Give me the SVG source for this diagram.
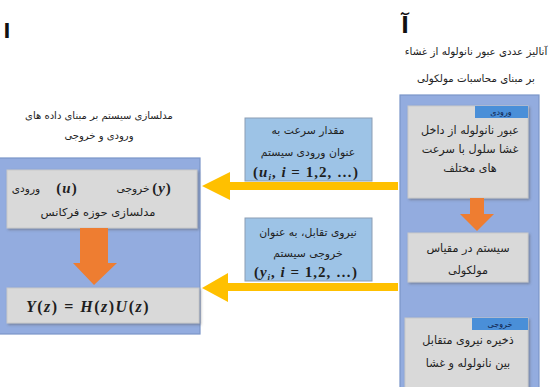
<svg xmlns="http://www.w3.org/2000/svg" width="553" height="387" viewBox="0 0 553 387">
<style>
.fa{font-family:"DejaVu Sans",sans-serif;font-size:10px;fill:#1e1e1e;text-anchor:middle;direction:rtl}
.fb{font-size:10.6px}
.fc{font-size:11.2px}
.m{font-family:"Liberation Serif",serif;font-size:15px;fill:#1e1e1e;text-anchor:middle;font-weight:bold;letter-spacing:1px}
.it{font-style:italic}
.outer{fill:#93acdf;stroke:#7a95c9;stroke-width:1.2}
.gray{fill:#d9d9d9;stroke:#c9c9c9;stroke-width:1}
.lbl{fill:#9dc3e6;stroke:#8c9db3;stroke-width:1}
.tab{fill:#4a8fd8}
.tabt{font-size:8px;fill:#0d1e4a}
.yel{fill:#ffc000}
.org{fill:#ee7d31}
</style>
<defs>
<filter id="sh" x="-10%" y="-10%" width="125%" height="130%">
<feDropShadow dx="1.5" dy="1.5" stdDeviation="1" flood-color="#555" flood-opacity="0.45"/>
</filter>
</defs>
<rect width="553" height="387" fill="#ffffff"/>

<g id="label-b"><text x="7" y="38" font-family="DejaVu Sans, sans-serif" font-size="20" font-weight="bold" fill="#111" text-anchor="middle">ا</text></g>
<g id="label-a"><text x="405" y="33" font-family="DejaVu Sans, sans-serif" font-size="22" font-weight="bold" fill="#111" text-anchor="middle">آ</text></g>

<g id="title-right">
<text class="fa" x="476" y="55" style="font-size:10.3px">آنالیز عددی عبور نانولوله از غشاء</text>
<text class="fa" x="476" y="82" style="font-size:10.3px">بر مبنای محاسبات مولکولی</text>
</g>
<g id="title-left">
<text class="fa" x="99" y="119">مدلسازی سیستم بر مبنای داده های</text>
<text class="fa" x="99" y="139">ورودی و خروجی</text>
</g>

<g id="node-left-model">
<rect class="outer" x="-1" y="158" width="201" height="176"/>
<g id="node-freq-model">
<rect class="gray" x="7" y="170" width="190" height="58" filter="url(#sh)"/>
<text class="fa fb" x="26" y="192">ورودی</text>
<text class="m" x="67" y="193">(<tspan class="it">u</tspan>)</text>
<text class="fa fb" x="133" y="192">خروجی</text>
<text class="m" x="162" y="193">(<tspan class="it">y</tspan>)</text>
<text class="fa" x="98" y="216" style="font-size:11px" textLength="115" lengthAdjust="spacingAndGlyphs">مدلسازی حوزه فرکانس</text>
</g>
<path class="org" d="M80,228 H108 V263 H117 L94,285 L73,263 H80 Z"/>
<g id="node-transfer">
<rect class="gray" x="7" y="288" width="192" height="35" filter="url(#sh)"/>
<text class="m" x="88" y="312" style="font-size:16px;letter-spacing:1.5px"><tspan class="it">Y</tspan>(<tspan class="it">z</tspan>) = <tspan class="it">H</tspan>(<tspan class="it">z</tspan>)<tspan class="it">U</tspan>(<tspan class="it">z</tspan>)</text>
</g>
</g>

<g id="node-right-sim">
<rect class="outer" x="400" y="95" width="139" height="295"/>
<g id="node-input">
<rect class="gray" x="408" y="106" width="120" height="92" filter="url(#sh)"/>
<rect class="tab" x="475" y="106" width="53" height="12"/>
<text class="fa tabt" x="501" y="115">ورودی</text>
<text class="fa fc" x="470" y="134">عبور نانولوله از داخل</text>
<text class="fa fc" x="470" y="153">غشا سلول با سرعت</text>
<text class="fa fc" x="470" y="172">های مختلف</text>
</g>
<path class="org" d="M470,198 H484 V214 H494 L477,231 L460,214 H470 Z"/>
<g id="node-system">
<rect class="gray" x="408" y="233" width="120" height="49" filter="url(#sh)"/>
<text class="fa fc" x="468" y="252">سیستم در مقیاس</text>
<text class="fa fc" x="468" y="274">مولکولی</text>
</g>
<g id="node-output">
<rect class="gray" x="405" y="318" width="123" height="72" filter="url(#sh)"/>
<rect class="tab" x="472" y="318" width="56" height="12"/>
<text class="fa tabt" x="500" y="327">خروجی</text>
<text class="fa fc" x="468" y="344">ذخیره نیروی متقابل</text>
<text class="fa fc" x="468" y="367">بین نانولوله و غشا</text>
</g>
</g>

<g id="connectors">
<path class="yel" d="M398,182 H230 V172 L202,186 L230,200 V190 H398 Z"/>
<path class="yel" d="M398,283 H228 V273 L202,288 L228,302 V291 H398 Z"/>
</g>

<g id="label-input">
<rect class="lbl" x="245" y="118" width="127" height="63"/>
<text class="fa" x="308" y="134" style="font-size:10.8px">مقدار سرعت به</text>
<text class="fa" x="308" y="156" style="font-size:10.8px">عنوان ورودی سیستم</text>
<text class="m" x="306" y="177">(<tspan class="it">u</tspan><tspan class="it" font-size="9" dy="3">i</tspan><tspan dy="-3">, </tspan><tspan class="it">i</tspan> = 1,2, …)</text>
</g>
<g id="label-output">
<rect class="lbl" x="245" y="218" width="127" height="63"/>
<text class="fa" x="308" y="236" style="font-size:10.8px">نیروی تقابل، به عنوان</text>
<text class="fa" x="308" y="257" style="font-size:10.8px">خروجی سیستم</text>
<text class="m" x="306" y="277">(<tspan class="it">y</tspan><tspan class="it" font-size="9" dy="3">i</tspan><tspan dy="-3">, </tspan><tspan class="it">i</tspan> = 1,2, …)</text>
</g>
</svg>
